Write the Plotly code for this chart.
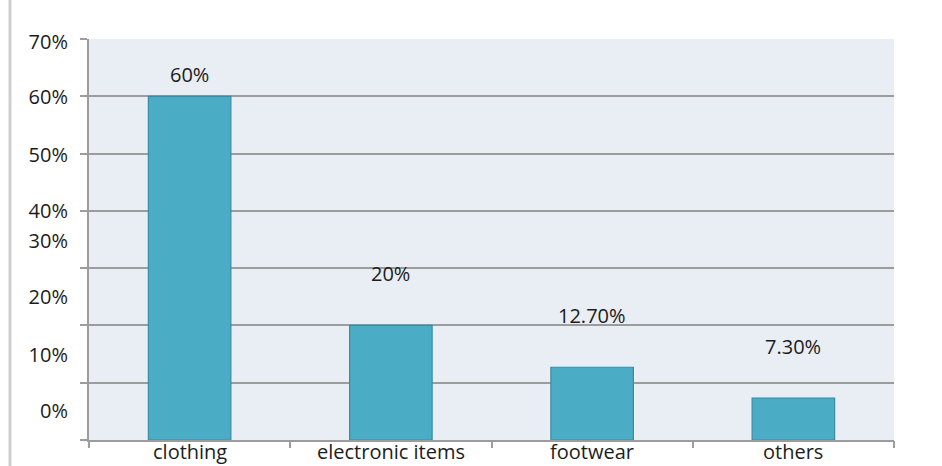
import plotly.graph_objects as go

# Share of sales by product category
categories = ["clothing", "electronic items", "footwear", "others"]
shares = [60, 20, 12.7, 7.3]
share_labels = ["60%", "20%", "12.70%", "7.30%"]

# Y-axis labels and the heights at which they are printed
y_tick_text = ["70%", "60%", "50%", "40%", "30%", "20%", "10%", "0%"]
y_tick_pos = [69.4, 59.8, 49.8, 39.9, 34.7, 24.9, 14.9, 5.0]
grid_vals = [0, 10, 20, 30, 40, 50, 60, 70]

# category boundaries for the x tick marks
boundaries = [-0.5, 0.5, 1.5, 2.5, 3.5]

# vertical pixel offset of each value label above its bar
label_offsets = [22, 52, 52, 52]

FONT = "Open Sans"
TEXT = "#1c1c1c"
GRID = "#9c9c9c"
FS = 20

fig = go.Figure()
fig.add_trace(go.Bar(
    x=categories,
    y=shares,
    marker=dict(color="#4BACC6", line=dict(color="#3A8CA3", width=1.2)),
    showlegend=False,
    hoverinfo="skip",
))

# value labels above the bars
for cat, val, lab, off in zip(categories, shares, share_labels, label_offsets):
    fig.add_annotation(
        x=cat, y=val, text=lab, showarrow=False,
        yshift=off, yanchor="middle", xanchor="center",
        font=dict(family=FONT, size=FS, color=TEXT),
    )

# category names set tight under the axis line
for cat in categories:
    fig.add_annotation(
        x=cat, xref="x", y=0, yref="paper", text=cat, showarrow=False,
        yshift=-11, yanchor="middle", xanchor="center",
        font=dict(family=FONT, size=FS, color=TEXT),
    )

# thin grey rule down the left edge of the page
fig.add_shape(
    type="line", xref="paper", yref="paper",
    x0=(10 - 89) / 805, x1=(10 - 89) / 805, y0=-0.2, y1=1.2,
    line=dict(color="#cfcfcf", width=3),
)

fig.update_layout(
    width=942, height=466,
    margin=dict(l=89, r=48, t=39, b=26),
    paper_bgcolor="white",
    plot_bgcolor="#E9EDF4",
    bargap=0.59,
    xaxis=dict(
        type="category",
        range=[-0.5, 3.5],
        ticks="", showticklabels=False,
        showline=True, linecolor=GRID, linewidth=1.5,
        showgrid=False,
        automargin=False,
    ),
    xaxis2=dict(
        overlaying="x", anchor="y",
        range=[-0.5, 3.5],
        tickvals=boundaries,
        showticklabels=False,
        ticks="outside", ticklen=7, tickcolor=GRID, tickwidth=1.5,
        showgrid=False, showline=False, zeroline=False,
        automargin=False,
    ),
    yaxis=dict(
        range=[0, 70],
        tickvals=grid_vals,
        showticklabels=False,
        ticks="outside", ticklen=7, tickcolor=GRID, tickwidth=1.5,
        showgrid=True, gridcolor=GRID, gridwidth=1.5,
        showline=True, linecolor=GRID, linewidth=1.5,
        zeroline=False,
        automargin=False,
    ),
    yaxis2=dict(
        overlaying="y", side="left", anchor="x",
        range=[0, 70],
        tickvals=y_tick_pos, ticktext=y_tick_text,
        ticks="", showgrid=False, showline=False, zeroline=False,
        ticklabelstandoff=20,
        tickfont=dict(family=FONT, size=FS, color=TEXT),
        automargin=False,
    ),
)

# invisible traces so the overlay axes are drawn
fig.add_trace(go.Scatter(x=[categories[0]], y=[0], yaxis="y2", mode="markers",
                         marker=dict(opacity=0), showlegend=False, hoverinfo="skip"))
fig.add_trace(go.Scatter(x=[0], y=[0], xaxis="x2", mode="markers",
                         marker=dict(opacity=0), showlegend=False, hoverinfo="skip"))

fig.write_html("out.html")
